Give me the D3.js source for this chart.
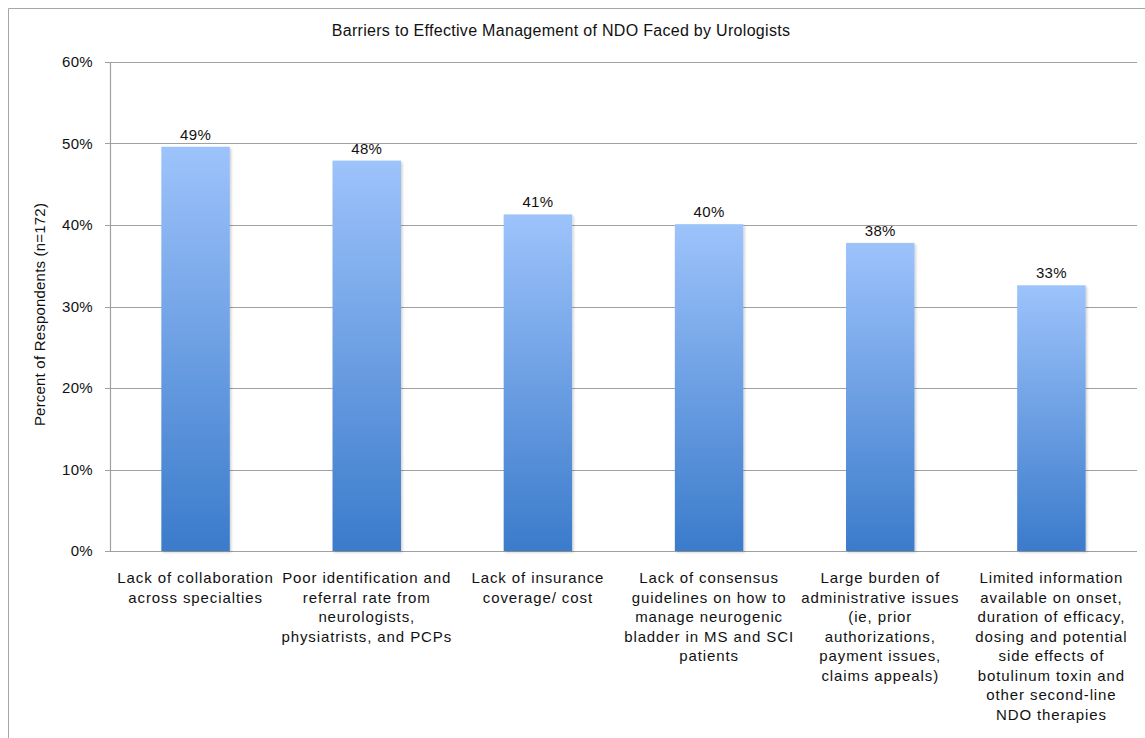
<!DOCTYPE html>
<html>
<head>
<meta charset="utf-8">
<script src="https://cdn.jsdelivr.net/npm/d3@7"></script>
<style>
  html, body { margin: 0; padding: 0; background: #fff; overflow: hidden; }
  svg { display: block; overflow: visible; }
  text { font-family: "Liberation Sans", Arial, sans-serif; fill: #111; }
</style>
</head>
<body>
<div id="chart"></div>
<script>
// data
const categories = [
    ["Lack of collaboration", "across specialties"],
    ["Poor identification and", "referral rate from", "neurologists,", "physiatrists, and PCPs"],
    ["Lack of insurance", "coverage/ cost"],
    ["Lack of consensus", "guidelines on how to", "manage neurogenic", "bladder in MS and SCI", "patients"],
    ["Large burden of", "administrative issues", "(ie, prior", "authorizations,", "payment issues,", "claims appeals)"],
    ["Limited information", "available on onset,", "duration of efficacy,", "dosing and potential", "side effects of", "botulinum toxin and", "other second-line", "NDO therapies"]
];
const values = [49.6, 47.9, 41.3, 40.1, 37.8, 32.6];
const valueLabels = ["49%", "48%", "41%", "40%", "38%", "33%"];
const yTicks = [0, 10, 20, 30, 40, 50, 60];

const width = 1145, height = 738;
const margin = { top: 62, right: 8, bottom: 187, left: 110 };
const innerWidth = width - margin.left - margin.right;
const innerHeight = height - margin.top - margin.bottom;

const svg = d3.select("#chart")
    .append("svg")
    .attr("width", width)
    .attr("height", height)
    .attr("viewBox", `0 0 ${width} ${height}`);

// outer frame
svg.append("path")
    .attr("d", `M8.5,${height} V8.5 H${width}`)
    .attr("fill", "none")
    .attr("stroke", "#a6a6a6")
    .attr("stroke-width", 1);

const defs = svg.append("defs");
const grad = defs.append("linearGradient")
    .attr("id", "barGrad")
    .attr("x1", 0).attr("y1", 0).attr("x2", 0).attr("y2", 1);
grad.append("stop").attr("offset", "0%").attr("stop-color", "#9dc3fb");
grad.append("stop").attr("offset", "100%").attr("stop-color", "#3b7bcb");

const shadow = defs.append("filter").attr("id", "shadow")
    .attr("x", "-10%").attr("y", "-10%").attr("width", "130%").attr("height", "130%");
shadow.append("feDropShadow")
    .attr("dx", 1.5).attr("dy", 1.5).attr("stdDeviation", 1.2)
    .attr("flood-color", "#000").attr("flood-opacity", 0.18);

const innerChart = svg.append("g")
    .attr("transform", `translate(${margin.left}, ${margin.top})`);

const xScale = d3.scaleBand()
    .domain(d3.range(categories.length))
    .range([0, innerWidth])
    .paddingInner(0.6)
    .paddingOuter(0.3);

const yScale = d3.scaleLinear()
    .domain([0, 60])
    .range([innerHeight, 0]);

// gridlines
innerChart.append("g")
    .selectAll("line")
    .data(yTicks)
    .join("line")
    .attr("x1", -5)
    .attr("x2", innerWidth)
    .attr("y1", d => Math.round(yScale(d)) + 0.5)
    .attr("y2", d => Math.round(yScale(d)) + 0.5)
    .attr("stroke", "#a0a0a0")
    .attr("stroke-width", 1.2);

// y axis line
innerChart.append("line")
    .attr("x1", 0.5).attr("x2", 0.5)
    .attr("y1", yScale(60)).attr("y2", innerHeight)
    .attr("stroke", "#a0a0a0")
    .attr("stroke-width", 1.2);

// y tick labels
innerChart.append("g")
    .selectAll("text")
    .data(yTicks)
    .join("text")
    .attr("x", -17)
    .attr("y", d => yScale(d))
    .attr("dy", "0.35em")
    .attr("text-anchor", "end")
    .attr("font-size", 15)
    .attr("letter-spacing", 0.3)
    .text(d => d + "%");

// bars
innerChart.selectAll("rect.bar")
    .data(values)
    .join("rect")
    .attr("class", "bar")
    .attr("x", (d, i) => xScale(i))
    .attr("y", d => yScale(d))
    .attr("width", xScale.bandwidth())
    .attr("height", d => innerHeight - yScale(d))
    .attr("fill", "url(#barGrad)")
    .attr("filter", "url(#shadow)");

// value labels
innerChart.selectAll("text.val")
    .data(values)
    .join("text")
    .attr("class", "val")
    .attr("x", (d, i) => xScale(i) + xScale.bandwidth() / 2)
    .attr("y", d => yScale(d) - 7)
    .attr("text-anchor", "middle")
    .attr("font-size", 15)
    .attr("letter-spacing", 0.3)
    .text((d, i) => valueLabels[i]);

// category labels, one text per wrapped line
const catLines = categories.flatMap((lines, i) =>
    lines.map((line, j) => ({ i, j, line })));

innerChart.selectAll("text.cat")
    .data(catLines)
    .join("text")
    .attr("class", "cat")
    .attr("text-anchor", "middle")
    .attr("font-size", 15)
    .attr("letter-spacing", 0.9)
    .attr("x", d => xScale(d.i) + xScale.bandwidth() / 2)
    .attr("y", d => innerHeight + 32 + d.j * 19.5)
    .text(d => d.line);

// title
svg.append("text")
    .attr("x", 561)
    .attr("y", 36)
    .attr("text-anchor", "middle")
    .attr("font-size", 16)
    .attr("letter-spacing", 0.3)
    .text("Barriers to Effective Management of NDO Faced by Urologists");

// y axis label
svg.append("text")
    .attr("transform", `translate(45, ${margin.top + innerHeight / 2 + 8}) rotate(-90)`)
    .attr("text-anchor", "middle")
    .attr("font-size", 15)
    .attr("letter-spacing", 0.2)
    .text("Percent of Respondents (n=172)");
</script>
</body>
</html>
